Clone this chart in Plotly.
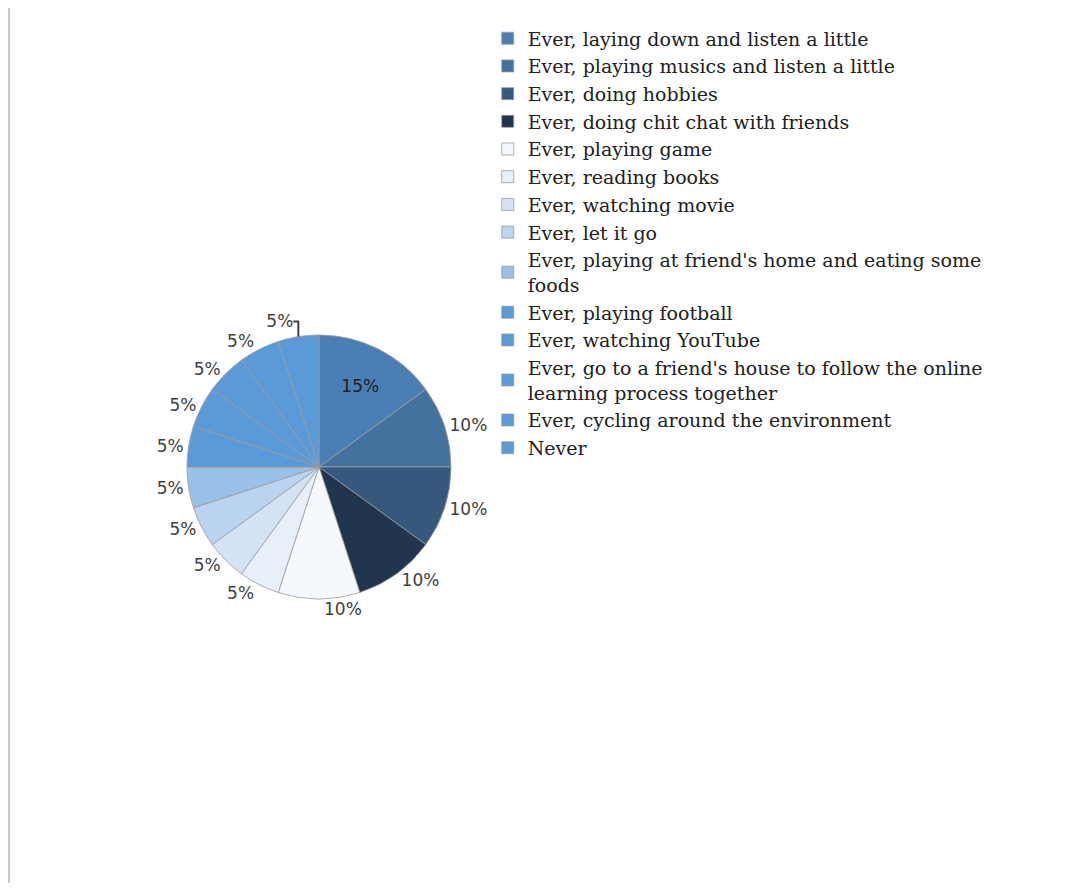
import plotly.graph_objects as go

categories = [
    "Ever, laying down and listen a little",
    "Ever, playing musics and listen a little",
    "Ever, doing hobbies",
    "Ever, doing chit chat with friends",
    "Ever, playing game",
    "Ever, reading books",
    "Ever, watching movie",
    "Ever, let it go",
    "Ever, playing at friend's home and eating some<br>foods",
    "Ever, playing football",
    "Ever, watching YouTube",
    "Ever, go to a friend's house to follow the online<br>learning process together",
    "Ever, cycling around the environment",
    "Never",
]
values = [15, 10, 10, 10, 10, 5, 5, 5, 5, 5, 5, 5, 5, 5]
colors = [
    "#4a7fb6", "#44729f", "#35587d", "#21354e", "#f5f9fd", "#e7eff8", "#d4e3f3",
    "#bad3ee", "#99c0e6", "#5a9ad6", "#5a9ad6", "#5a9ad6", "#5a9ad6", "#5a9ad6",
]
text_positions = ["inside"] + ["outside"] * 13

fig = go.Figure(go.Pie(
    labels=categories,
    values=values,
    sort=False,
    direction="clockwise",
    rotation=0,
    marker=dict(colors=colors, line=dict(color="#9a9a9a", width=0.8)),
    textinfo="percent",
    texttemplate="%{percent:.0%}",
    textposition=text_positions,
    textfont=dict(family="DejaVu Sans", size=17, color="#404040"),
    insidetextfont=dict(family="DejaVu Sans", size=17, color="#202020"),
    outsidetextfont=dict(family="DejaVu Sans", size=17, color="#404040"),
    domain=dict(x=[0.1695, 0.4195], y=[0.3246, 0.6263]),
    hoverinfo="label+percent",
))

fig.update_layout(
    width=1056,
    height=875,
    margin=dict(l=0, r=0, t=0, b=0),
    paper_bgcolor="white",
    plot_bgcolor="white",
    showlegend=True,
    legend=dict(
        x=0.4543, y=0.987, xanchor="left", yanchor="top",
        font=dict(family="DejaVu Serif", size=19, color="#202020"),
        bgcolor="rgba(0,0,0,0)",
        itemclick=False,
    ),
    shapes=[dict(type="line", xref="paper", yref="paper", x0=0.001, x1=0.001, y0=0, y1=1.0,
                 line=dict(color="#c8c8c8", width=2))],
)

fig.write_html("out.html")
